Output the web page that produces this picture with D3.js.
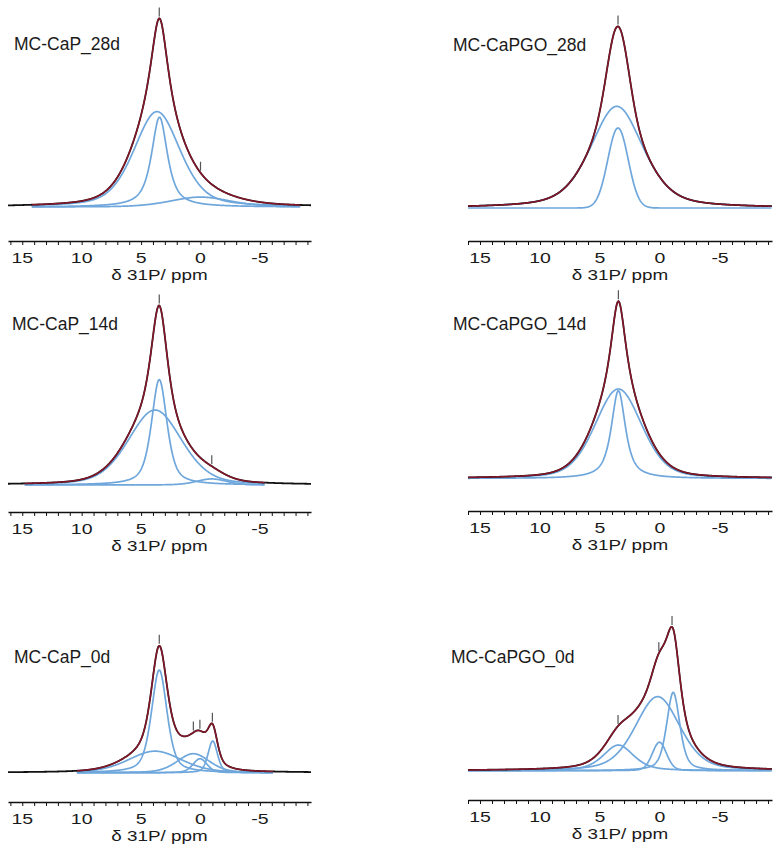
<!DOCTYPE html>
<html>
<head>
<meta charset="utf-8">
<script src="https://cdn.jsdelivr.net/npm/d3@7"></script>
<style>
  html, body { margin: 0; padding: 0; background: #fff; }
  svg { display: block; }
  text { font-family: "Liberation Sans", Arial, Helvetica, sans-serif; fill: #1a1a1a; }
</style>
</head>
<body>
<svg id="chart" width="780" height="849"></svg>
<script>
// ---------------- DATA ----------------
// tick labels of the chemical-shift axis (ppm)
const majorTicks = [15, 10, 5, 0, -5];
const minorTicks = [16, 15, 14, 13, 12, 11, 10, 9, 8, 7, 6, 5, 4, 3, 2, 1, 0, -1, -2, -3, -4, -5, -6, -7, -8, -9];
const axisTitle = "δ 31P/ ppm";
const panelTitles = ["MC-CaP_28d", "MC-CaPGO_28d", "MC-CaP_14d", "MC-CaPGO_14d", "MC-CaP_0d", "MC-CaPGO_0d"];

// deconvolution components: [centre ppm, relative height, FWHM ppm, Lorentzian fraction]
const compsCaP28 = [[3.66, 51, 4.6, 0.4], [3.45, 48, 1.6, 0.8], [0.0, 5.3, 6.0, 0.3]];
const compsCaPGO28 = [[3.6, 56.8, 5.2, 0.45], [3.5, 44.7, 2.0, 0.0]];
const compsCaP14 = [[3.47, 59, 1.55, 0.6], [3.83, 42, 5.3, 0.3], [-0.94, 3.4, 3.0, 0.3]];
const compsCaPGO14 = [[3.47, 50, 4.6, 0.3], [3.47, 49, 1.4, 0.8]];
const compsCaP0 = [[3.47, 81, 1.55, 0.5], [3.83, 17, 5.3, 0.3], [0.6, 15, 3.2, 0.3], [0.04, 11, 1.4, 0.3], [-1.03, 25, 0.93, 0.4]];
const compsCaPGO0 = [[3.47, 18, 3.0, 0.5], [0.2, 52, 4.4, 0.35], [0.05, 20, 1.4, 0.2], [-1.1, 55, 1.3, 0.5]];

// fitted ppm range of each panel [from, to]
const fitRanges = [[14.2, -8.4], [16.0, -9.3], [14.8, -5.4], [16.0, -9.3], [10.4, -6.1], [16.0, -9.3]];
// peak markers (ppm)
const markersCaP28 = [3.47, 0.0];
const markersCaPGO28 = [3.5];
const markersCaP14 = [3.47, -0.95];
const markersCaPGO14 = [3.47];
const markersCaP0 = [3.47, 0.6, 0.05, -1.0];
const markersCaPGO0 = [3.5, 0.1, -1.0];

// ---------------- LAYOUT ----------------
const comps = [compsCaP28, compsCaPGO28, compsCaP14, compsCaPGO14, compsCaP0, compsCaPGO0];
const markers = [markersCaP28, markersCaPGO28, markersCaP14, markersCaPGO14, markersCaP0, markersCaPGO0];
const layout = [
  {col: 0, axisY: 241, baseY: 207, topY: 20, titleX: 14, titleY: 50},
  {col: 1, axisY: 241, baseY: 208, topY: 29, titleX: 453, titleY: 51},
  {col: 0, axisY: 512, baseY: 485, topY: 306.5, titleX: 12, titleY: 330},
  {col: 1, axisY: 511, baseY: 478.5, topY: 299.5, titleX: 453, titleY: 330},
  {col: 0, axisY: 802, baseY: 772.7, topY: 646, titleX: 14, titleY: 663},
  {col: 1, axisY: 800, baseY: 770.7, topY: 628.3, titleX: 451, titleY: 663}
];
const xDomains = [[16.2, -9.3], [16.0, -9.33]];
const xRanges = [[8, 311], [468, 772]];

const svg = d3.select("#chart");
svg.append("rect").attr("width", 780).attr("height", 849).attr("fill", "#fff");

function pv(x, c) {
  const [c0, h, w, eta] = c;
  const t = (x - c0) / (w / 2);
  return h * (eta / (1 + t * t) + (1 - eta) * Math.exp(-Math.LN2 * t * t));
}
function total(x, cs) { return d3.sum(cs, c => pv(x, c)); }

const blue = "#6fa7dc";

layout.forEach((L, i) => {
  const x = d3.scaleLinear().domain(xDomains[L.col]).range(xRanges[L.col]);
  const y = d3.scaleLinear().domain([0, 100]).range([L.baseY, L.topY]);
  const cs = comps[i];
  const g = svg.append("g");

  const fr = fitRanges[i];
  const fitGrid = d3.range(fr[0], fr[1] - 1e-6, -0.03);
  const dom = xDomains[L.col];
  const fullGrid = d3.range(dom[0], dom[1] - 1e-6, -0.03);

  // components
  cs.forEach(c => {
    const line = d3.line().x(p => x(p)).y(p => y(pv(p, c)));
    g.append("path").attr("d", line(fitGrid))
      .attr("fill", "none").attr("stroke", blue).attr("stroke-width", 1.7);
  });

  // experimental (black) and fit (red)
  const sumLine = d3.line().x(p => x(p)).y(p => y(total(p, cs)));
  g.append("path").attr("d", sumLine(fullGrid))
    .attr("fill", "none").attr("stroke", "#111").attr("stroke-width", 1.8);
  g.append("path").attr("d", sumLine(fitGrid))
    .attr("fill", "none").attr("stroke", "#a3172f").attr("stroke-width", 1.5).attr("stroke-opacity", 0.8);

  // peak markers
  markers[i].forEach(m => {
    const yy = y(total(m, cs));
    g.append("line").attr("x1", x(m)).attr("x2", x(m))
      .attr("y1", yy - 2).attr("y2", yy - 11)
      .attr("stroke", "#555").attr("stroke-width", 1.2);
  });

  // axis
  const axis = d3.axisBottom(x).tickValues(minorTicks).tickSize(4).tickSizeOuter(0).tickFormat("");
  const ag = g.append("g").attr("transform", `translate(0,${L.axisY})`).call(axis);
  ag.select(".domain").attr("stroke", "#111").attr("stroke-width", 1.3);
  ag.selectAll(".tick line").attr("stroke", "#111").attr("stroke-width", 1);

  majorTicks.forEach(t => {
    g.append("text")
      .attr("transform", `translate(${x(t)},${L.axisY + 22}) scale(1.3,1)`)
      .attr("text-anchor", "middle").attr("font-size", 15)
      .text(String(t));
  });
  g.append("text")
    .attr("transform", `translate(${(xRanges[L.col][0] + xRanges[L.col][1]) / 2},${L.axisY + 38.5}) scale(1.3,1)`)
    .attr("text-anchor", "middle").attr("font-size", 14.5)
    .text(axisTitle);

  g.append("text").attr("x", L.titleX).attr("y", L.titleY)
    .attr("font-size", 17.5).text(panelTitles[i]);
});
</script>
</body>
</html>
